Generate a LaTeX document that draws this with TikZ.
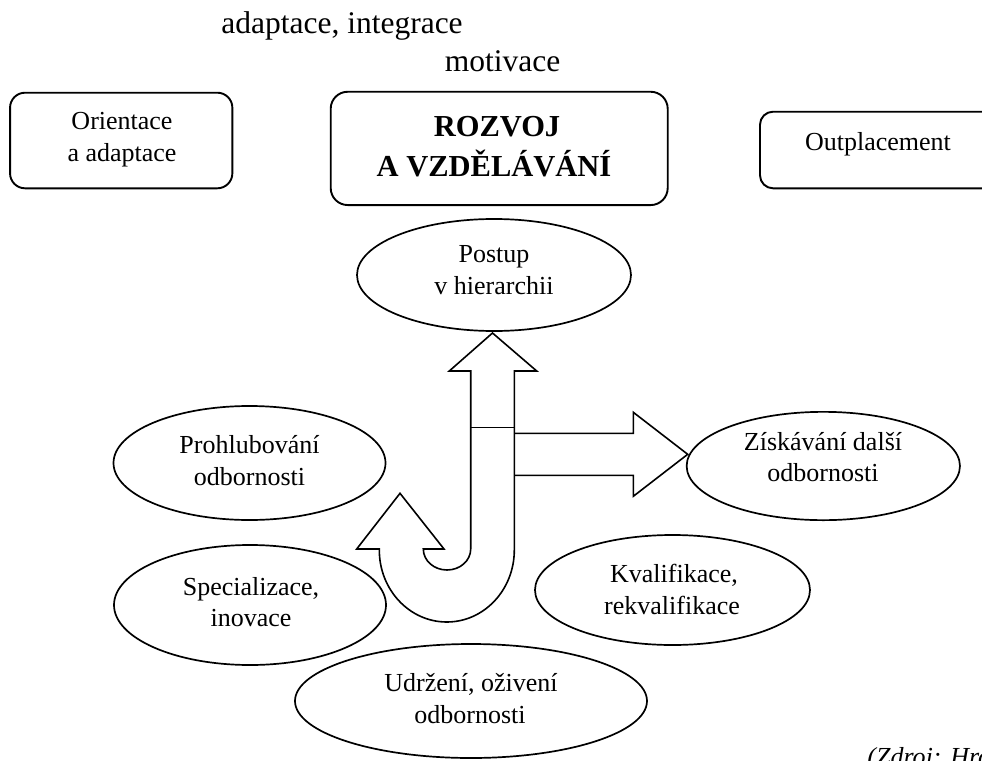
\documentclass[tikz,border=0pt]{standalone}
\usepackage{fontspec}
\setmainfont{Liberation Serif}
\usetikzlibrary{shapes.geometric}

\begin{document}
\begin{tikzpicture}[x=1pt,y=-1pt,
  line width=1.5pt, line join=miter,
  rbox/.style={draw, rounded corners=15pt, line width=1.9pt, inner sep=0pt},
  oval/.style={draw, ellipse, inner sep=0pt, line width=1.7pt},
  body/.style={font=\fontsize{26}{32}\selectfont, inner sep=0pt, anchor=base},
  head/.style={font=\fontsize{31.5}{38}\selectfont, inner sep=0pt, anchor=base},
  title/.style={font=\fontsize{30.5}{40}\selectfont\bfseries, inner sep=0pt, anchor=base},
  arrowline/.style={line width=1.6pt},
]
\useasboundingbox (0,0) rectangle (982,760);

% labels above the boxes
\node[head] (adapt) at (342,34) {adaptace, integrace};
\node[head] (motiv) at (502.5,71.7) {motivace};

% rounded boxes along the top
\node[rbox, minimum width=222.3pt, minimum height=95.6pt] (orient) at (121.2,140.5) {};
\node[body] (orient1) at (122,129) {Orientace};
\node[body] (orient2) at (122,161.7) {a adaptace};

\node[rbox, rounded corners=17pt, minimum width=337pt, minimum height=113.3pt] (rozvoj) at (499.2,148.4) {};
\node[title] (rozvoj1) at (497,136.7) {ROZVOJ};
\node[title] (rozvoj2) at (494,176.7) {A VZDĚLÁVÁNÍ};

\node[rbox, rounded corners=13pt, minimum width=236pt, minimum height=76.6pt] (outpl) at (878,150) {};
\node[body] (outpl1) at (878,150) {Outplacement};

% ellipses
\node[oval, minimum width=274pt, minimum height=112pt] (postup) at (494,275) {};
\node[body] (postup1) at (494,262) {Postup};
\node[body] (postup2) at (494,294) {v hierarchii};

\node[oval, minimum width=272pt, minimum height=114pt] (prohl) at (249.5,463) {};
\node[body] (prohl1) at (249.5,453) {Prohlubování};
\node[body] (prohl2) at (249.5,485) {odbornosti};

\node[oval, minimum width=273.3pt, minimum height=108.3pt] (ziskav) at (823.3,466) {};
\node[body] (ziskav1) at (823,450) {Získávání další};
\node[body] (ziskav2) at (823,481.7) {odbornosti};

\node[oval, minimum width=275pt, minimum height=110pt] (kvalif) at (672.5,590) {};
\node[body] (kvalif1) at (674,582.7) {Kvalifikace,};
\node[body] (kvalif2) at (672,614.3) {rekvalifikace};

\node[oval, minimum width=272pt, minimum height=120pt] (special) at (250,605) {};
\node[body] (special1) at (251,595) {Specializace,};
\node[body] (special2) at (251,626.7) {inovace};

\node[oval, minimum width=352pt, minimum height=114pt] (udrz) at (471,701) {};
\node[body] (udrz1) at (471,691.7) {Udržení, oživení};
\node[body] (udrz2) at (470,723.3) {odbornosti};

% source note, running off the page edge
\node[body, anchor=base west, font=\fontsize{26}{32}\selectfont\itshape] (zdroj) at (866.7,765) {(Zdroj: Hro};

% J-shaped arrow: straight shaft up to "Postup", U-turn back up on the left
\draw[arrowline]
  (492.5,333) -- (536.7,371) -- (514.3,371) -- (514.3,550)
  .. controls (514.3,589.8) and (484.1,622) .. (446.8,622)
  .. controls (409.5,622) and (379.3,589.8) .. (379.3,550)
  -- (379.3,549) -- (356.7,549) -- (400,493.3) -- (444,549) -- (423.3,549)
  .. controls (423.3,560.6) and (433.9,570) .. (447,570)
  .. controls (460.1,570) and (470.7,560.6) .. (470.7,549)
  -- (470.7,371) -- (449.3,371) -- cycle;
\draw[arrowline] (470.7,427.3) -- (514.3,427.3);

% block arrow to the right
\draw[arrowline]
  (514.3,433.3) -- (633.3,433.3) -- (633.3,412.3) -- (687.7,454.3)
  -- (633.3,496.3) -- (633.3,475.3) -- (514.3,475.3);
\end{tikzpicture}
\end{document}
